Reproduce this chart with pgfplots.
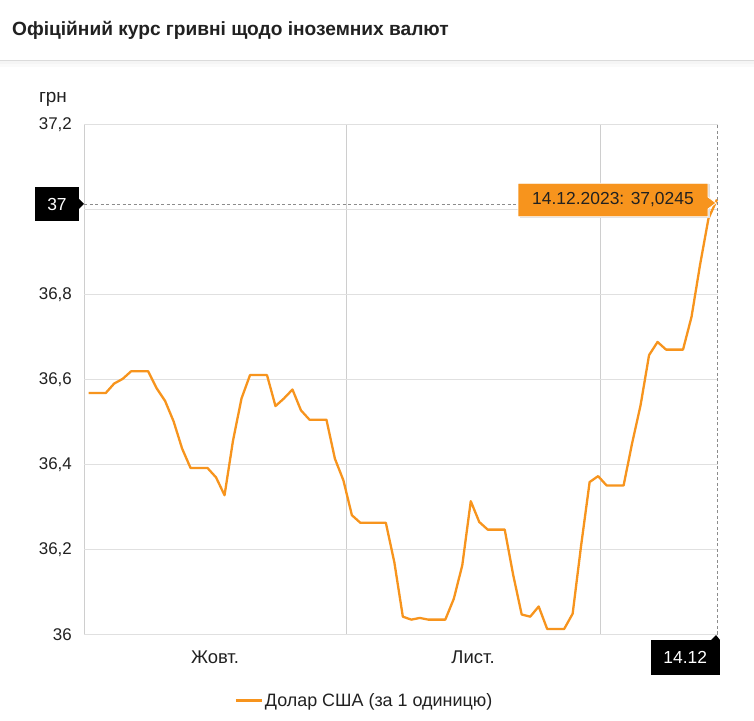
\documentclass[border=0pt]{standalone}
\usepackage{fontspec}
\setmainfont{Liberation Sans}
\usepackage{pgfplots}
\pgfplotsset{compat=1.18}
\definecolor{lineor}{RGB}{247,148,29}
\definecolor{gridc}{RGB}{224,224,224}
\definecolor{vgrid}{RGB}{206,206,206}
\definecolor{txt}{RGB}{33,33,33}
\pgfplotstableread{
i v
0 36.5686
1 36.5686
2 36.5686
3 36.591
4 36.602
5 36.620
6 36.620
7 36.620
8 36.580
9 36.550
10 36.502
11 36.438
12 36.392
13 36.392
14 36.392
15 36.370
16 36.328
17 36.457
18 36.556
19 36.611
20 36.611
21 36.611
22 36.538
23 36.556
24 36.577
25 36.528
26 36.506
27 36.506
28 36.506
29 36.414
30 36.363
31 36.281
32 36.263
33 36.263
34 36.263
35 36.263
36 36.170
37 36.042
38 36.035
39 36.039
40 36.035
41 36.035
42 36.035
43 36.084
44 36.163
45 36.314
46 36.265
47 36.247
48 36.247
49 36.247
50 36.140
51 36.047
52 36.042
53 36.066
54 36.013
55 36.013
56 36.013
57 36.049
58 36.210
59 36.359
60 36.373
61 36.351
62 36.351
63 36.351
64 36.450
65 36.540
66 36.658
67 36.689
68 36.671
69 36.671
70 36.671
71 36.748
72 36.870
73 36.980
74 37.0245
}\usd
\begin{document}
\begin{tikzpicture}
\path[use as bounding box] (0bp,0bp) rectangle (754bp,721bp);
\fill[white] (0bp,0bp) rectangle (754bp,721bp);
% title
\node[anchor=base west, inner sep=0pt, text=txt, font=\fontsize{19.2}{21}\selectfont\bfseries] at (12bp,685bp) {Офіційний курс гривні щодо іноземних валют};
% separator with shadow
\fill[black!2] (0bp,654bp) rectangle (754bp,660bp);
\fill[black!4] (0bp,657bp) rectangle (754bp,660bp);
\draw[black!14, line width=1bp] (0bp,660.5bp) -- (754bp,660.5bp);
% unit
\node[anchor=base, inner sep=0pt, text=txt, font=\fontsize{19}{21}\selectfont] at (53bp,618.5bp) {грн};
\begin{axis}[
  at={(84bp,86.5bp)}, anchor=south west, scale only axis,
  width=634bp, height=509.5bp,
  xmin=-0.553, xmax=74.12, ymin=36, ymax=37.2,
  axis line style={draw=none},
  xtick={-0.553,30.39,60.31}, xticklabels={,,},
  extra x ticks={14.88,45.27}, extra x tick labels={Жовт.,Лист.},
  extra x tick style={grid=none, major tick length=0pt},
  xmajorgrids, x grid style={vgrid, line width=1bp},
  ytick={36,36.2,36.4,36.6,36.8,37,37.2},
  yticklabels={36,{36,2},{36,4},{36,6},{36,8},{},{37,2}},
  ymajorgrids, y grid style={gridc, line width=1bp},
  major tick length=0pt,
  yticklabel style={anchor=east, inner sep=0pt, xshift=-12bp, text=txt, font=\fontsize{17}{19}\selectfont},
  xticklabel style={anchor=north, inner sep=0pt, yshift=-16bp, text=txt, font=\fontsize{18.5}{20}\selectfont},
  legend style={at={(0.4424,-0.1297)}, anchor=center, draw=none, fill=none, text=txt, font=\fontsize{18}{20}\selectfont},
  legend image code/.code={\draw[#1, line width=2.3bp] (0bp,0bp) -- (26bp,0bp);},
  clip=false,
]
\addplot[lineor, line width=2.3bp, line join=round] table[x=i, y=v] {\usd};
\addlegendentry{Долар США (за 1 одиницю)}
\draw[black!45, line width=0.8bp, dash pattern=on 3bp off 2.5bp] (axis cs:-0.553,37.014) -- (axis cs:74,37.014);
\draw[black!45, line width=0.8bp, dash pattern=on 3bp off 2.5bp] (axis cs:74.1,36) -- (axis cs:74.1,37.2);
\end{axis}
% y crosshair label
\fill[black] (35bp,500bp) rectangle (79bp,533.7bp);
\fill[black] (79bp,522bp) -- (84bp,517bp) -- (79bp,512bp) -- cycle;
\node[text=white, font=\fontsize{17.5}{19}\selectfont] at (57bp,516.9bp) {37};
% x crosshair label
\fill[black] (650.7bp,46bp) rectangle (720bp,81bp);
\fill[black] (711bp,81bp) -- (716bp,86bp) -- (720bp,81bp) -- cycle;
\node[text=white, font=\fontsize{17.5}{19}\selectfont] at (685.3bp,63.5bp) {14.12};
% tooltip
\fill[black!12] (519.5bp,503bp) rectangle (709.5bp,536.5bp);
\filldraw[fill=lineor, draw=white, line width=0.8bp] (518bp,504.3bp) -- (708bp,504.3bp) -- (708bp,512bp) -- (716bp,518bp) -- (708bp,524bp) -- (708bp,537.7bp) -- (518bp,537.7bp) -- cycle;
\node[text=txt, font=\fontsize{17.5}{19}\selectfont] at (613bp,521bp) {14.12.2023: 37,0245};
\end{tikzpicture}
\end{document}
